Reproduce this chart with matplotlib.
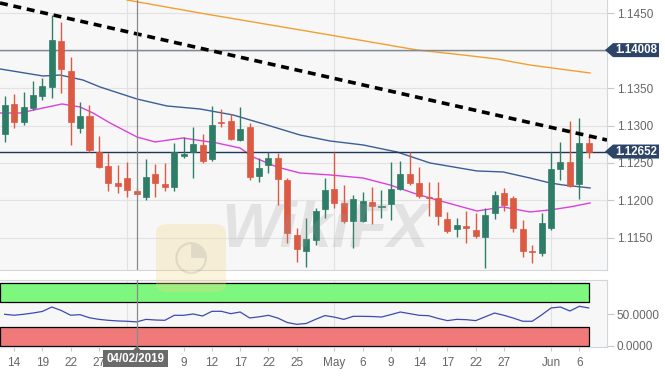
import matplotlib
matplotlib.use('Agg')
import matplotlib.pyplot as plt
from matplotlib.patches import Rectangle, Polygon, FancyBboxPatch
import matplotlib.transforms as mtransforms

plt.rcParams['font.family'] = ['Liberation Sans', 'DejaVu Sans']

# ---------------- data (EUR/USD daily, 13 Mar - 7 Jun 2019) ----------------
opens = [1.12887, 1.13288, 1.13047, 1.13234, 1.13395, 1.13515, 1.14130, 1.13729, 1.12967, 1.13127,
         1.12646, 1.12459, 1.12232, 1.12298, 1.12125, 1.12044, 1.12352, 1.12218, 1.12178, 1.12592,
         1.12646, 1.12740, 1.12552, 1.13047, 1.13060, 1.12806, 1.12980, 1.12325, 1.12472, 1.12566,
         1.12272, 1.11536, 1.11322, 1.11469, 1.11884, 1.12151, 1.11964, 1.11723, 1.11723, 1.11977,
         1.11911, 1.11951, 1.12151, 1.12352, 1.12232, 1.12044, 1.12031, 1.11750, 1.11617, 1.11657,
         1.11603, 1.11510, 1.11830, 1.12098, 1.12031, 1.11617, 1.11322, 1.11296, 1.11630, 1.12419,
         1.12512, 1.12218, 1.12766]
highs = [1.13395, 1.13421, 1.13448, 1.13595, 1.13635, 1.14478, 1.14384, 1.13916, 1.13314, 1.13274,
         1.12860, 1.12633, 1.12472, 1.12512, 1.12165, 1.12552, 1.12486, 1.12499, 1.12766, 1.12846,
         1.12980, 1.12887, 1.13261, 1.13221, 1.13154, 1.13248, 1.13034, 1.12566, 1.12646, 1.12633,
         1.12298, 1.11630, 1.11764, 1.11897, 1.12298, 1.12646, 1.12205, 1.12071, 1.12111, 1.12178,
         1.12138, 1.12512, 1.12526, 1.12646, 1.12445, 1.12245, 1.12245, 1.11844, 1.11764, 1.11857,
         1.11830, 1.11897, 1.12125, 1.12165, 1.12058, 1.11737, 1.11403, 1.11830, 1.12646, 1.12780,
         1.13060, 1.13101, 1.12846]
lows = [1.12780, 1.12967, 1.13007, 1.13207, 1.13341, 1.13368, 1.13435, 1.12740, 1.12900, 1.12646,
        1.12432, 1.12125, 1.12098, 1.12044, 1.12071, 1.12004, 1.12044, 1.12125, 1.12125, 1.12566,
        1.12298, 1.12499, 1.12526, 1.12980, 1.12806, 1.12793, 1.12272, 1.12245, 1.12365, 1.11937,
        1.11429, 1.11175, 1.11109, 1.11403, 1.11764, 1.11897, 1.11697, 1.11362, 1.11710, 1.11683,
        1.11764, 1.11737, 1.12138, 1.12205, 1.12031, 1.11790, 1.11670, 1.11563, 1.11510, 1.11429,
        1.11496, 1.11095, 1.11750, 1.11857, 1.11576, 1.11242, 1.11162, 1.11256, 1.11603, 1.12272,
        1.12178, 1.12018, 1.12566]
closes = [1.13274, 1.13047, 1.13248, 1.13408, 1.13528, 1.14143, 1.13756, 1.13047, 1.13127, 1.12673,
          1.12445, 1.12232, 1.12191, 1.12138, 1.12084, 1.12312, 1.12232, 1.12178, 1.12646, 1.12619,
          1.12753, 1.12526, 1.13007, 1.13034, 1.12820, 1.12953, 1.12312, 1.12432, 1.12566, 1.12285,
          1.11563, 1.11349, 1.11483, 1.11857, 1.12138, 1.11964, 1.11723, 1.12018, 1.11991, 1.11924,
          1.11924, 1.12151, 1.12352, 1.12232, 1.12058, 1.12031, 1.11790, 1.11590, 1.11670, 1.11630,
          1.11523, 1.11804, 1.12071, 1.11937, 1.11630, 1.11322, 1.11309, 1.11697, 1.12419, 1.12512,
          1.12191, 1.12766, 1.12652]

# moving averages (sample points: candle index, price)
sma_blue_x = [-0.5, 4.07, 5.87, 8.31, 10.12, 14.05, 17.23, 20.73, 24.24, 27.85, 31.35, 34.53,
              38.04, 41.65, 45.15, 50.14, 52.9, 55.76, 57.89, 59.27, 62.14]
sma_blue_y = [1.13756, 1.13662, 1.13675, 1.13608, 1.13515, 1.13354, 1.13261, 1.13221, 1.13141,
              1.13007, 1.12873, 1.12793, 1.12740, 1.12646, 1.12499, 1.12392, 1.12379, 1.12298,
              1.12232, 1.12205, 1.12165]
sma_mag_x = [-0.5, 1.62, 4.07, 6.08, 7.99, 9.37, 11.18, 14.05, 15.96, 18.93, 22.54, 24.98, 26.36,
             28.91, 31.35, 34.53, 38.04, 40.9, 43.35, 45.89, 50.14, 52.9, 55.76, 57.89, 60.01, 62.14]
sma_mag_y = [1.13167, 1.13167, 1.13234, 1.13288, 1.13248, 1.13167, 1.13034, 1.12846, 1.12780,
             1.12833, 1.12766, 1.12699, 1.12579, 1.12445, 1.12365, 1.12339, 1.12298, 1.12205,
             1.12098, 1.12004, 1.11857, 1.11911, 1.11844, 1.11871, 1.11911, 1.11964]
sma_org_x = [12.98, 20.73, 34.53, 43.77, 48.65, 52.26, 55.76, 62.14]
sma_org_y = [1.14678, 1.14504, 1.14210, 1.14010, 1.13943, 1.13889, 1.13809, 1.13702]
trend_x = [-0.5, 63.94]
trend_y = [1.14638, 1.12806]

rsi = [50, 48.5, 50, 52, 54.5, 61.5, 56, 48.5, 49.4, 44.5, 42, 40.5, 39.5, 39, 38, 42, 41, 40.5,
       48.4, 48.4, 50.5, 47.3, 54.7, 54.7, 51, 53.6, 44.2, 46, 48.4, 44, 37, 34.2, 35.5, 42, 48,
       45.5, 42, 46.8, 46.8, 46.5, 45.7, 49.5, 53.6, 51, 48.4, 47.8, 43.5, 40, 42, 41.5, 40, 46,
       52, 48.4, 44, 39, 39, 49, 60, 61.5, 55.2, 62.6, 60]

level_hi = 1.14008
level_last = 1.12652
cursor_idx = 14
cursor_label = '04/02/2019'
tick_idx = [1, 4, 7, 10, 19, 22, 25, 28, 31, 35, 38, 41, 44, 47, 50, 53, 58, 61]
tick_lab = ['14', '19', '22', '27', '9', '12', '17', '22', '25', 'May', '6', '9', '14', '17',
            '22', '27', 'Jun', '6']
month_idx = [13, 35, 58]
price_ticks = [1.1150, 1.1200, 1.1250, 1.1300, 1.1350, 1.1400, 1.1450]

# ---------------- figure ----------------
W, H = 665, 377
fig = plt.figure(figsize=(W / 100, H / 100), dpi=100)
fig.patch.set_facecolor('white')

def fx(x):
    return x / W

def fy(y):
    return 1 - y / H

ax = fig.add_axes([0, fy(270), fx(607), 270 / H])
ax2 = fig.add_axes([0, fy(347), fx(607), 67 / H])

GREEN = '#2e7d68'
RED = '#dc5a43'
XL = (-0.5, 63.94)

for a in (ax, ax2):
    a.set_facecolor('#f7f7f7')
    a.set_xlim(*XL)
    a.spines['left'].set_visible(False)
    for s in ('right', 'bottom', 'top'):
        a.spines[s].set_color('#d0d6dc')
        a.spines[s].set_linewidth(0.8)
    for m in month_idx:
        a.axvline(m, color='#e2e2e2', lw=0.8, zorder=0)
ax.spines['top'].set_visible(False)

ax.set_ylim(1.11068, 1.14678)
for p in price_ticks:
    ax.axhline(p, color='#e2e2e2', lw=0.8, zorder=0)

# candles
bw = 0.64
for i, (o, h, l, c) in enumerate(zip(opens, highs, lows, closes)):
    col = GREEN if c >= o else RED
    ax.vlines(i, l, h, color=col, lw=1.0, zorder=3)
    lo = min(o, c)
    ht = max(abs(c - o), 0.00012)
    ax.add_patch(Rectangle((i - bw / 2, lo), bw, ht, facecolor=col, edgecolor=col, lw=0.5, zorder=4))

ax.plot(sma_org_x, sma_org_y, color='#f0a030', lw=1.0, zorder=2)
ax.plot(sma_blue_x, sma_blue_y, color='#3a5e96', lw=1.0, zorder=2)
ax.plot(sma_mag_x, sma_mag_y, color='#dd3fdd', lw=1.0, zorder=2)
ax.plot(trend_x, trend_y, color='black', lw=2.6, ls=(0, (2.2, 1.6)), zorder=5)

ax.axhline(level_hi, color='#808890', lw=1.0, zorder=2)
ax.axhline(level_last, color='#1f3658', lw=1.0, zorder=2)
ax.axvline(cursor_idx, color='#8a8a8a', lw=0.9, zorder=6)

ax.yaxis.tick_right()
ax.set_yticks(price_ticks)
ax.set_yticklabels(['%.4f' % p if abs(p - 1.14) > 1e-6 else '' for p in price_ticks])
ax.tick_params(axis='y', length=5, width=0.8, color='#c8c8c8', labelsize=8.5,
               labelcolor='#666666', pad=2)
ax.set_xticks([])

# ---------------- oscillator ----------------
ax2.set_ylim(-1.6, 104.1)
last = len(closes) - 1
ax2.add_patch(Rectangle((XL[0], 70), last - XL[0], 30, facecolor='#7ef77e', edgecolor='black',
                        lw=0.9, zorder=1))
ax2.add_patch(Rectangle((XL[0], 0), last - XL[0], 30, facecolor='#f07a7a', edgecolor='black',
                        lw=0.9, zorder=1))
ax2.plot(range(len(rsi)), rsi, color='#3d4bb0', lw=0.9, zorder=3)
ax2.axvline(cursor_idx, color='#8a8a8a', lw=0.9, zorder=6)
ax2.yaxis.tick_right()
ax2.set_yticks([0, 50])
ax2.set_yticklabels(['0.0000', '50.0000'])
ax2.tick_params(axis='y', length=5, width=0.8, color='#c8c8c8', labelsize=8.5,
                labelcolor='#666666', pad=2)
ax2.set_xticks(tick_idx)
ax2.set_xticklabels(tick_lab)
ax2.tick_params(axis='x', length=3, width=0.8, color='#c8c8c8', labelsize=8.5,
                labelcolor='#666666', pad=4)

# ---------------- price labels on right ----------------
bt = mtransforms.blended_transform_factory(fig.transFigure, ax.transData)
hh = 7 / 7480.0
for lvl in (level_hi, level_last):
    pts = [(fx(605), lvl), (fx(613), lvl + hh), (fx(659), lvl + hh), (fx(659), lvl - hh),
           (fx(613), lvl - hh)]
    fig.patches.append(Polygon(pts, closed=True, transform=bt, facecolor='#2b4468',
                               edgecolor='none', zorder=10))
    fig.text(fx(636), lvl, '%.5f' % lvl, transform=bt, ha='center', va='center',
             color='white', fontsize=8.3, fontweight='bold', zorder=11)

# cursor date label
cx = fx(137)
fig.patches.append(Polygon([(cx, fy(346)), (cx - fx(4), fy(350.5)), (cx + fx(4), fy(350.5))],
                           closed=True, transform=fig.transFigure, facecolor='#6a6a6a',
                           edgecolor='none', zorder=10))
fig.patches.append(Rectangle((fx(103), fy(367)), fx(65), 17 / H, transform=fig.transFigure,
                             facecolor='#6a6a6a', edgecolor='none', zorder=10))
fig.text(fx(135.5), fy(358.5), cursor_label, ha='center', va='center', color='white',
         fontsize=8.3, fontweight='bold', zorder=11)

# ---------------- watermark ----------------
fig.patches.append(FancyBboxPatch((fx(156), fy(292)), fx(70), 68 / H,
                                  boxstyle='round,pad=0.0,rounding_size=0.02',
                                  transform=fig.transFigure, facecolor='#f3d98a',
                                  edgecolor='none', alpha=0.3, zorder=9))
fig.text(fx(191), fy(257), '\u25D4', ha='center', va='center', fontsize=30,
         color='#8a8a8a', alpha=0.2, zorder=9, family='DejaVu Sans')
fig.text(fx(325), fy(230), 'WikiFX', ha='center', va='center', fontsize=45,
         fontweight='bold', style='italic', color='#9a9a9a', alpha=0.22, zorder=9)

fig.savefig('out.png', dpi=100)
